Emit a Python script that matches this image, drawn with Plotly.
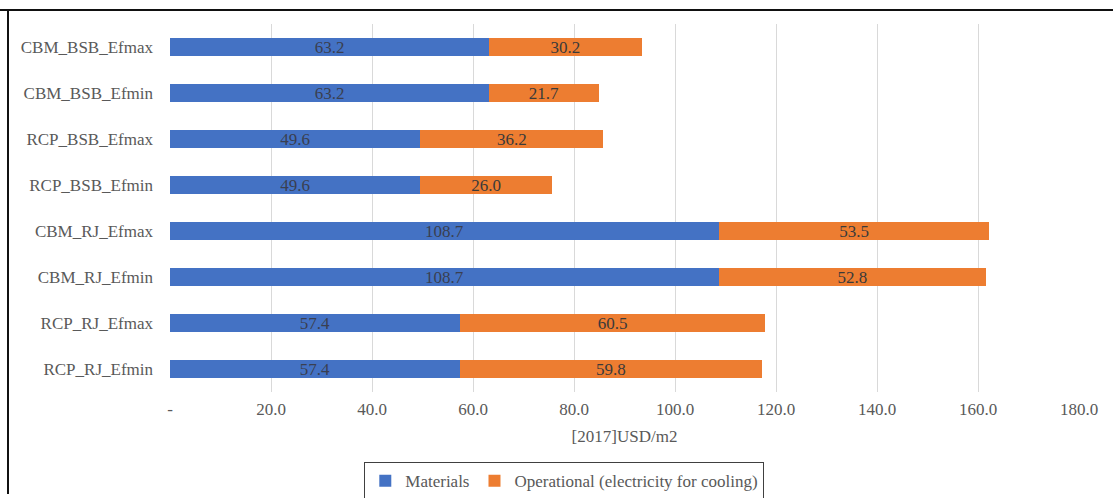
import plotly.graph_objects as go

# Scenario costs per square metre, split into materials and cooling electricity
scenarios = [
    "CBM_BSB_Efmax", "CBM_BSB_Efmin", "RCP_BSB_Efmax", "RCP_BSB_Efmin",
    "CBM_RJ_Efmax", "CBM_RJ_Efmin", "RCP_RJ_Efmax", "RCP_RJ_Efmin",
]
materials = [63.2, 63.2, 49.6, 49.6, 108.7, 108.7, 57.4, 57.4]
operational = [30.2, 21.7, 36.2, 26.0, 53.5, 52.8, 60.5, 59.8]

tick_vals = [0, 20, 40, 60, 80, 100, 120, 140, 160, 180]
tick_text = ["-", "20.0", "40.0", "60.0", "80.0", "100.0", "120.0", "140.0", "160.0", "180.0"]

FONT = "Liberation Serif"
W, H = 1113, 498
L, R, T, B = 170, 34, 24, 106

fig = go.Figure()
fig.add_trace(go.Bar(
    y=scenarios, x=materials, orientation="h", name="Materials",
    marker=dict(color="#4472C4", line=dict(width=0)),
    text=materials, texttemplate="%{x:.1f}", textposition="inside",
    insidetextanchor="middle", constraintext="none",
    textfont=dict(family=FONT, size=17, color="#3A3F50"),
))
fig.add_trace(go.Bar(
    y=scenarios, x=operational, orientation="h",
    name="Operational (electricity for cooling)",
    marker=dict(color="#ED7D31", line=dict(width=0)),
    text=operational, texttemplate="%{x:.1f}", textposition="inside",
    insidetextanchor="middle", constraintext="none",
    textfont=dict(family=FONT, size=17, color="#3A3A3A"),
))

pw = W - L - R
ph = H - T - B


def px_x(p):
    return (p - L) / pw


def px_y(p):
    return (H - B - p) / ph


# Outer frame lines (top and left edges)
shapes = [
    dict(type="line", xref="paper", yref="paper",
         x0=px_x(0), x1=px_x(W + 5), y0=px_y(10), y1=px_y(10),
         line=dict(color="#111111", width=2)),
    dict(type="line", xref="paper", yref="paper",
         x0=px_x(8), x1=px_x(8), y0=px_y(10), y1=px_y(494),
         line=dict(color="#111111", width=2)),
]

fig.update_layout(
    width=W, height=H,
    barmode="stack", bargap=0.6,
    margin=dict(l=L, r=R, t=T, b=B),
    plot_bgcolor="white", paper_bgcolor="white",
    font=dict(family=FONT, size=17, color="#595959"),
    showlegend=True,
    legend=dict(
        orientation="h", xref="container", yref="container",
        x=0.507, xanchor="center", y=0.072, yanchor="top",
        bordercolor="#404040", borderwidth=1,
        font=dict(family=FONT, size=17, color="#595959"),
        itemsizing="constant", traceorder="normal",
    ),
    shapes=shapes,
)
fig.update_xaxes(
    range=[0, 180], tickvals=tick_vals, ticktext=tick_text,
    showgrid=True, gridcolor="#D9D9D9", gridwidth=1,
    zeroline=False, showline=False, ticks="",
    ticklabelstandoff=5,
    title=dict(text="[2017]USD/m2", standoff=12,
               font=dict(family=FONT, size=17, color="#595959")),
)
fig.update_yaxes(
    autorange="reversed", showgrid=False, showline=False, ticks="",
    ticklabelstandoff=16,
)

fig.write_html("out.html")
